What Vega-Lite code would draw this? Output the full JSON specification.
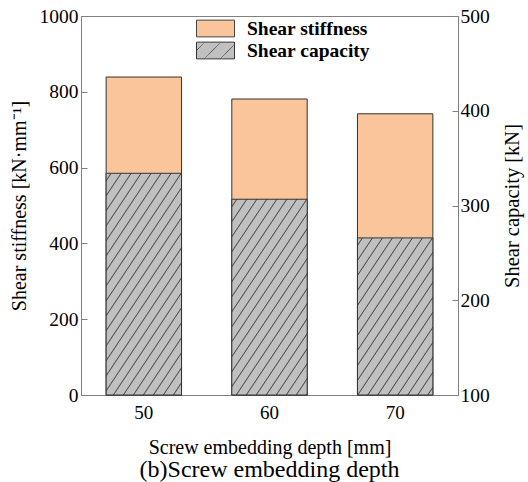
{
  "$schema": "https://vega.github.io/schema/vega-lite/v6.json",
  "width": 377,
  "height": 379,
  "autosize": "none",
  "padding": {"left": 81, "top": 16, "right": 70, "bottom": 87},
  "background": "white",
  "config": {
    "font": "Liberation Serif",
    "view": {"stroke": "#808080", "strokeWidth": 1},
    "axis": {"labelFont": "Liberation Serif", "titleFont": "Liberation Serif", "labelColor": "black", "titleColor": "black", "titleFontWeight": "normal", "domainColor": "#808080", "tickColor": "#808080", "grid": false},
    "legend": {"labelFont": "Liberation Serif", "labelFontSize": 19.5, "labelFontWeight": "bold", "labelColor": "black", "labelOffset": 12, "symbolType": "M-1,-0.44H1V0.44H-1Z", "symbolSize": 1444, "symbolStrokeWidth": 1, "symbolOpacity": 1}
  },
  "title": {"text": "(b)Screw embedding depth", "orient": "bottom", "font": "Liberation Serif", "fontSize": 24, "fontWeight": "normal", "color": "black", "offset": 1},
  "data": {"values": [
    {"depth": "50", "stiffness": 839, "capacity": 334.0},
    {"depth": "60", "stiffness": 781, "capacity": 306.6},
    {"depth": "70", "stiffness": 742, "capacity": 265.8}
  ]},
  "encoding": {
    "x": {"field": "depth", "type": "nominal", "scale": {"paddingInner": 0.4, "paddingOuter": 0.2},
      "axis": {"title": "Screw embedding depth [mm]", "labelAngle": 0, "ticks": false, "labelFont": "Liberation Serif", "labelFontSize": 19, "titleFontSize": 20, "labelPadding": 8, "titlePadding": 15, "domain": true}}
  },
  "layer": [
    {
      "mark": {"type": "bar", "stroke": "#333333", "strokeWidth": 1},
      "encoding": {
        "y": {"field": "stiffness", "type": "quantitative", "scale": {"domain": [0, 1000]},
          "axis": {"orient": "left", "title": "Shear stiffness [kN·mm⁻¹]", "values": [0, 200, 400, 600, 800, 1000], "format": "d", "tickSize": -6, "labelFont": "Liberation Serif", "labelFontSize": 19.5, "titleFontSize": 20, "labelPadding": 9, "titlePadding": 10}},
        "fill": {"datum": "Shear stiffness", "type": "nominal",
          "scale": {"domain": ["Shear stiffness"], "range": ["#fac59a"]},
          "legend": {"title": null, "orient": "none", "legendX": 115, "legendY": -7, "symbolStrokeColor": "#444444"}
        }
      }
    },
    {
      "mark": {"type": "bar", "strokeWidth": 1},
      "encoding": {
        "y": {"field": "capacity", "type": "quantitative", "scale": {"domain": [100, 500], "zero": false},
          "axis": {"orient": "right", "title": "Shear capacity [kN]", "values": [100, 200, 300, 400, 500], "tickSize": -6, "labelFont": "Liberation Serif", "labelFontSize": 19.5, "titleFontSize": 20.5, "labelPadding": 8, "titlePadding": 33, "titleAngle": 270}},
        "y2": {"datum": 100},
        "stroke": {"datum": "Shear capacity", "type": "nominal",
          "scale": {"domain": ["Shear capacity"], "range": ["#333333"]},
          "legend": {"title": null, "orient": "none", "legendX": 115, "legendY": 15}
        },
        "fill": {
          "condition": [
            {"test": "false", "value": {"gradient": "linear", "x1": 0, "y1": 0, "x2": 1.43, "y2": 0.6, "stops": [
                {"offset": 0, "color": "#c0c0c0"},
                {"offset": 0.115, "color": "#c0c0c0"}, {"offset": 0.125, "color": "#505050"}, {"offset": 0.135, "color": "#c0c0c0"},
                {"offset": 0.365, "color": "#c0c0c0"}, {"offset": 0.375, "color": "#505050"}, {"offset": 0.385, "color": "#c0c0c0"},
                {"offset": 0.615, "color": "#c0c0c0"}, {"offset": 0.625, "color": "#505050"}, {"offset": 0.635, "color": "#c0c0c0"},
                {"offset": 0.865, "color": "#c0c0c0"}, {"offset": 0.875, "color": "#505050"}, {"offset": 0.885, "color": "#c0c0c0"},
                {"offset": 1, "color": "#c0c0c0"}]}},
            {"test": "datum.depth === '50'", "value": {"gradient": "linear", "x1": 0, "y1": 0, "x2": 0.6573, "y2": 1.2885, "stops": [
              {"offset": 0, "color": "#c0c0c0"},
              {"offset": 0.0163, "color": "#c0c0c0"}, {"offset": 0.0208, "color": "#454545"}, {"offset": 0.0253, "color": "#c0c0c0"},
              {"offset": 0.058, "color": "#c0c0c0"}, {"offset": 0.0625, "color": "#454545"}, {"offset": 0.067, "color": "#c0c0c0"},
              {"offset": 0.0997, "color": "#c0c0c0"}, {"offset": 0.1042, "color": "#454545"}, {"offset": 0.1087, "color": "#c0c0c0"},
              {"offset": 0.1413, "color": "#c0c0c0"}, {"offset": 0.1458, "color": "#454545"}, {"offset": 0.1503, "color": "#c0c0c0"},
              {"offset": 0.183, "color": "#c0c0c0"}, {"offset": 0.1875, "color": "#454545"}, {"offset": 0.192, "color": "#c0c0c0"},
              {"offset": 0.2247, "color": "#c0c0c0"}, {"offset": 0.2292, "color": "#454545"}, {"offset": 0.2337, "color": "#c0c0c0"},
              {"offset": 0.2663, "color": "#c0c0c0"}, {"offset": 0.2708, "color": "#454545"}, {"offset": 0.2753, "color": "#c0c0c0"},
              {"offset": 0.308, "color": "#c0c0c0"}, {"offset": 0.3125, "color": "#454545"}, {"offset": 0.317, "color": "#c0c0c0"},
              {"offset": 0.3497, "color": "#c0c0c0"}, {"offset": 0.3542, "color": "#454545"}, {"offset": 0.3587, "color": "#c0c0c0"},
              {"offset": 0.3913, "color": "#c0c0c0"}, {"offset": 0.3958, "color": "#454545"}, {"offset": 0.4003, "color": "#c0c0c0"},
              {"offset": 0.433, "color": "#c0c0c0"}, {"offset": 0.4375, "color": "#454545"}, {"offset": 0.442, "color": "#c0c0c0"},
              {"offset": 0.4747, "color": "#c0c0c0"}, {"offset": 0.4792, "color": "#454545"}, {"offset": 0.4837, "color": "#c0c0c0"},
              {"offset": 0.5163, "color": "#c0c0c0"}, {"offset": 0.5208, "color": "#454545"}, {"offset": 0.5253, "color": "#c0c0c0"},
              {"offset": 0.558, "color": "#c0c0c0"}, {"offset": 0.5625, "color": "#454545"}, {"offset": 0.567, "color": "#c0c0c0"},
              {"offset": 0.5997, "color": "#c0c0c0"}, {"offset": 0.6042, "color": "#454545"}, {"offset": 0.6087, "color": "#c0c0c0"},
              {"offset": 0.6413, "color": "#c0c0c0"}, {"offset": 0.6458, "color": "#454545"}, {"offset": 0.6503, "color": "#c0c0c0"},
              {"offset": 0.683, "color": "#c0c0c0"}, {"offset": 0.6875, "color": "#454545"}, {"offset": 0.692, "color": "#c0c0c0"},
              {"offset": 0.7247, "color": "#c0c0c0"}, {"offset": 0.7292, "color": "#454545"}, {"offset": 0.7337, "color": "#c0c0c0"},
              {"offset": 0.7663, "color": "#c0c0c0"}, {"offset": 0.7708, "color": "#454545"}, {"offset": 0.7753, "color": "#c0c0c0"},
              {"offset": 0.808, "color": "#c0c0c0"}, {"offset": 0.8125, "color": "#454545"}, {"offset": 0.817, "color": "#c0c0c0"},
              {"offset": 0.8497, "color": "#c0c0c0"}, {"offset": 0.8542, "color": "#454545"}, {"offset": 0.8587, "color": "#c0c0c0"},
              {"offset": 0.8913, "color": "#c0c0c0"}, {"offset": 0.8958, "color": "#454545"}, {"offset": 0.9003, "color": "#c0c0c0"},
              {"offset": 0.933, "color": "#c0c0c0"}, {"offset": 0.9375, "color": "#454545"}, {"offset": 0.942, "color": "#c0c0c0"},
              {"offset": 0.9747, "color": "#c0c0c0"}, {"offset": 0.9792, "color": "#454545"}, {"offset": 0.9837, "color": "#c0c0c0"},
              {"offset": 1, "color": "#c0c0c0"}]}},
            {"test": "datum.depth === '60'", "value": {"gradient": "linear", "x1": 0, "y1": 0, "x2": 0.7963, "y2": 1.3786, "stops": [
              {"offset": 0, "color": "#c0c0c0"},
              {"offset": 0.0163, "color": "#c0c0c0"}, {"offset": 0.0208, "color": "#454545"}, {"offset": 0.0253, "color": "#c0c0c0"},
              {"offset": 0.058, "color": "#c0c0c0"}, {"offset": 0.0625, "color": "#454545"}, {"offset": 0.067, "color": "#c0c0c0"},
              {"offset": 0.0997, "color": "#c0c0c0"}, {"offset": 0.1042, "color": "#454545"}, {"offset": 0.1087, "color": "#c0c0c0"},
              {"offset": 0.1413, "color": "#c0c0c0"}, {"offset": 0.1458, "color": "#454545"}, {"offset": 0.1503, "color": "#c0c0c0"},
              {"offset": 0.183, "color": "#c0c0c0"}, {"offset": 0.1875, "color": "#454545"}, {"offset": 0.192, "color": "#c0c0c0"},
              {"offset": 0.2247, "color": "#c0c0c0"}, {"offset": 0.2292, "color": "#454545"}, {"offset": 0.2337, "color": "#c0c0c0"},
              {"offset": 0.2663, "color": "#c0c0c0"}, {"offset": 0.2708, "color": "#454545"}, {"offset": 0.2753, "color": "#c0c0c0"},
              {"offset": 0.308, "color": "#c0c0c0"}, {"offset": 0.3125, "color": "#454545"}, {"offset": 0.317, "color": "#c0c0c0"},
              {"offset": 0.3497, "color": "#c0c0c0"}, {"offset": 0.3542, "color": "#454545"}, {"offset": 0.3587, "color": "#c0c0c0"},
              {"offset": 0.3913, "color": "#c0c0c0"}, {"offset": 0.3958, "color": "#454545"}, {"offset": 0.4003, "color": "#c0c0c0"},
              {"offset": 0.433, "color": "#c0c0c0"}, {"offset": 0.4375, "color": "#454545"}, {"offset": 0.442, "color": "#c0c0c0"},
              {"offset": 0.4747, "color": "#c0c0c0"}, {"offset": 0.4792, "color": "#454545"}, {"offset": 0.4837, "color": "#c0c0c0"},
              {"offset": 0.5163, "color": "#c0c0c0"}, {"offset": 0.5208, "color": "#454545"}, {"offset": 0.5253, "color": "#c0c0c0"},
              {"offset": 0.558, "color": "#c0c0c0"}, {"offset": 0.5625, "color": "#454545"}, {"offset": 0.567, "color": "#c0c0c0"},
              {"offset": 0.5997, "color": "#c0c0c0"}, {"offset": 0.6042, "color": "#454545"}, {"offset": 0.6087, "color": "#c0c0c0"},
              {"offset": 0.6413, "color": "#c0c0c0"}, {"offset": 0.6458, "color": "#454545"}, {"offset": 0.6503, "color": "#c0c0c0"},
              {"offset": 0.683, "color": "#c0c0c0"}, {"offset": 0.6875, "color": "#454545"}, {"offset": 0.692, "color": "#c0c0c0"},
              {"offset": 0.7247, "color": "#c0c0c0"}, {"offset": 0.7292, "color": "#454545"}, {"offset": 0.7337, "color": "#c0c0c0"},
              {"offset": 0.7663, "color": "#c0c0c0"}, {"offset": 0.7708, "color": "#454545"}, {"offset": 0.7753, "color": "#c0c0c0"},
              {"offset": 0.808, "color": "#c0c0c0"}, {"offset": 0.8125, "color": "#454545"}, {"offset": 0.817, "color": "#c0c0c0"},
              {"offset": 0.8497, "color": "#c0c0c0"}, {"offset": 0.8542, "color": "#454545"}, {"offset": 0.8587, "color": "#c0c0c0"},
              {"offset": 0.8913, "color": "#c0c0c0"}, {"offset": 0.8958, "color": "#454545"}, {"offset": 0.9003, "color": "#c0c0c0"},
              {"offset": 0.933, "color": "#c0c0c0"}, {"offset": 0.9375, "color": "#454545"}, {"offset": 0.942, "color": "#c0c0c0"},
              {"offset": 0.9747, "color": "#c0c0c0"}, {"offset": 0.9792, "color": "#454545"}, {"offset": 0.9837, "color": "#c0c0c0"},
              {"offset": 1, "color": "#c0c0c0"}]}},
            {"test": "datum.depth === '70'", "value": {"gradient": "linear", "x1": 0, "y1": 0, "x2": 1.0866, "y2": 1.5093, "stops": [
              {"offset": 0, "color": "#c0c0c0"},
              {"offset": 0.0163, "color": "#c0c0c0"}, {"offset": 0.0208, "color": "#454545"}, {"offset": 0.0253, "color": "#c0c0c0"},
              {"offset": 0.058, "color": "#c0c0c0"}, {"offset": 0.0625, "color": "#454545"}, {"offset": 0.067, "color": "#c0c0c0"},
              {"offset": 0.0997, "color": "#c0c0c0"}, {"offset": 0.1042, "color": "#454545"}, {"offset": 0.1087, "color": "#c0c0c0"},
              {"offset": 0.1413, "color": "#c0c0c0"}, {"offset": 0.1458, "color": "#454545"}, {"offset": 0.1503, "color": "#c0c0c0"},
              {"offset": 0.183, "color": "#c0c0c0"}, {"offset": 0.1875, "color": "#454545"}, {"offset": 0.192, "color": "#c0c0c0"},
              {"offset": 0.2247, "color": "#c0c0c0"}, {"offset": 0.2292, "color": "#454545"}, {"offset": 0.2337, "color": "#c0c0c0"},
              {"offset": 0.2663, "color": "#c0c0c0"}, {"offset": 0.2708, "color": "#454545"}, {"offset": 0.2753, "color": "#c0c0c0"},
              {"offset": 0.308, "color": "#c0c0c0"}, {"offset": 0.3125, "color": "#454545"}, {"offset": 0.317, "color": "#c0c0c0"},
              {"offset": 0.3497, "color": "#c0c0c0"}, {"offset": 0.3542, "color": "#454545"}, {"offset": 0.3587, "color": "#c0c0c0"},
              {"offset": 0.3913, "color": "#c0c0c0"}, {"offset": 0.3958, "color": "#454545"}, {"offset": 0.4003, "color": "#c0c0c0"},
              {"offset": 0.433, "color": "#c0c0c0"}, {"offset": 0.4375, "color": "#454545"}, {"offset": 0.442, "color": "#c0c0c0"},
              {"offset": 0.4747, "color": "#c0c0c0"}, {"offset": 0.4792, "color": "#454545"}, {"offset": 0.4837, "color": "#c0c0c0"},
              {"offset": 0.5163, "color": "#c0c0c0"}, {"offset": 0.5208, "color": "#454545"}, {"offset": 0.5253, "color": "#c0c0c0"},
              {"offset": 0.558, "color": "#c0c0c0"}, {"offset": 0.5625, "color": "#454545"}, {"offset": 0.567, "color": "#c0c0c0"},
              {"offset": 0.5997, "color": "#c0c0c0"}, {"offset": 0.6042, "color": "#454545"}, {"offset": 0.6087, "color": "#c0c0c0"},
              {"offset": 0.6413, "color": "#c0c0c0"}, {"offset": 0.6458, "color": "#454545"}, {"offset": 0.6503, "color": "#c0c0c0"},
              {"offset": 0.683, "color": "#c0c0c0"}, {"offset": 0.6875, "color": "#454545"}, {"offset": 0.692, "color": "#c0c0c0"},
              {"offset": 0.7247, "color": "#c0c0c0"}, {"offset": 0.7292, "color": "#454545"}, {"offset": 0.7337, "color": "#c0c0c0"},
              {"offset": 0.7663, "color": "#c0c0c0"}, {"offset": 0.7708, "color": "#454545"}, {"offset": 0.7753, "color": "#c0c0c0"},
              {"offset": 0.808, "color": "#c0c0c0"}, {"offset": 0.8125, "color": "#454545"}, {"offset": 0.817, "color": "#c0c0c0"},
              {"offset": 0.8497, "color": "#c0c0c0"}, {"offset": 0.8542, "color": "#454545"}, {"offset": 0.8587, "color": "#c0c0c0"},
              {"offset": 0.8913, "color": "#c0c0c0"}, {"offset": 0.8958, "color": "#454545"}, {"offset": 0.9003, "color": "#c0c0c0"},
              {"offset": 0.933, "color": "#c0c0c0"}, {"offset": 0.9375, "color": "#454545"}, {"offset": 0.942, "color": "#c0c0c0"},
              {"offset": 0.9747, "color": "#c0c0c0"}, {"offset": 0.9792, "color": "#454545"}, {"offset": 0.9837, "color": "#c0c0c0"},
              {"offset": 1, "color": "#c0c0c0"}]}}
          ],
          "value": {"gradient": "linear", "x1": 0, "y1": 0, "x2": 1.43, "y2": 0.6, "stops": [
                {"offset": 0, "color": "#c0c0c0"},
                {"offset": 0.115, "color": "#c0c0c0"}, {"offset": 0.125, "color": "#505050"}, {"offset": 0.135, "color": "#c0c0c0"},
                {"offset": 0.365, "color": "#c0c0c0"}, {"offset": 0.375, "color": "#505050"}, {"offset": 0.385, "color": "#c0c0c0"},
                {"offset": 0.615, "color": "#c0c0c0"}, {"offset": 0.625, "color": "#505050"}, {"offset": 0.635, "color": "#c0c0c0"},
                {"offset": 0.865, "color": "#c0c0c0"}, {"offset": 0.875, "color": "#505050"}, {"offset": 0.885, "color": "#c0c0c0"},
                {"offset": 1, "color": "#c0c0c0"}]}
        }
      }
    }
  ],
  "resolve": {"scale": {"y": "independent", "fill": "independent", "stroke": "independent"}}
}
